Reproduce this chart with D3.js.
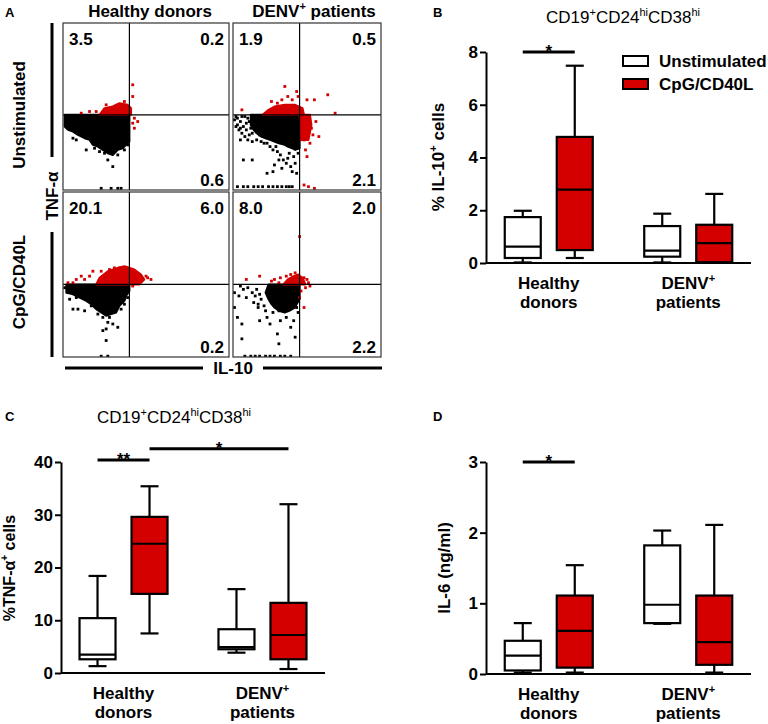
<!DOCTYPE html>
<html>
<head>
<meta charset="utf-8">
<script src="https://cdn.jsdelivr.net/npm/d3@7"></script>
<style>
  body { margin: 0; background: #fff; }
  svg { display: block; }
</style>
</head>
<body>
<svg width="768" height="724"></svg>
<script>
// ---------------- data ----------------
var groups = ["Healthy donors", "DENV+ patients"];
var conditions = ["Unstimulated", "CpG/CD40L"];

// box stats per group / condition: [min, q1, median, q3, max]
var il10Stats = [
  [[0.02, 0.19, 0.62, 1.74, 1.98], [0.19, 0.49, 2.78, 4.78, 7.48]],
  [[0.02, 0.24, 0.47, 1.40, 1.87], [0.02, 0.03, 0.75, 1.45, 2.62]]
];
var tnfStats = [
  [[1.3, 2.6, 3.5, 10.4, 18.4], [7.5, 15.0, 24.5, 29.6, 35.4]],
  [[3.85, 4.5, 4.9, 8.3, 15.9], [0.75, 2.6, 7.2, 13.3, 32.0]]
];
var il6Stats = [
  [[0.02, 0.05, 0.26, 0.47, 0.72], [0.02, 0.09, 0.61, 1.11, 1.54]],
  [[0.71, 0.72, 0.98, 1.82, 2.03], [0.02, 0.13, 0.45, 1.11, 2.11]]
];
var il10Ticks = [0, 2, 4, 6, 8];
var tnfTicks = [0, 10, 20, 30, 40];
var il6Ticks = [0, 1, 2, 3];

// significance bars: [group, condition] -> [group, condition] at value
var il10Sig = [{from: [0, 0], to: [0, 1], value: 8, label: "*"}];
var tnfSig = [
  {from: [0, 0], to: [0, 1], value: 40.4, label: "**"},
  {from: [0, 1], to: [1, 1], value: 42.5, label: "*"}
];
var il6Sig = [{from: [0, 0], to: [0, 1], value: 3, label: "*"}];

// flow plots (order: healthy/unstim, DENV/unstim, healthy/CpG, DENV/CpG), axes 0-100
var quadLabels = [["3.5", "0.2", "0.6"], ["1.9", "0.5", "2.1"], ["20.1", "6.0", "0.2"], ["8.0", "2.0", "2.2"]];
var gateX = [40, 45, 40, 45];
var gateY = [45, 45, 44, 44];
var blackCore = [
  [[[1,45],[40,45],[40,29],[38,27],[36,25],[33,24],[30,21],[27,22],[24,24],[21,26],[18,27],[16,30],[13,31],[9,33],[6,35],[3,36],[1,38]]],
  [[[12,45],[45,45],[45,25],[42,24],[40,25],[37,26],[35,27],[31,28],[28,29],[25,30],[22,31],[19,32],[16,34],[14,36],[12,39]]],
  [[[2,44],[40,44],[40,40],[38,37],[37,34],[34,31],[32,27],[29,26],[26,25],[23,27],[20,29],[17,32],[14,34],[10,36],[6,38],[2,39]]],
  [[[24,44],[45,44],[45,35],[43,32],[42,30],[38,28],[35,27],[31,28],[28,30],[26,32],[24,35],[22,39]]]
];
var redCore = [
  [[[22,45],[25,49],[30,50],[34,52],[39,51],[41,49],[41,45]]],
  [[[20,45],[24,48],[28,50],[35,51],[42,51],[47,49],[48,45]], [[45,45],[52,45],[53,39],[51,30],[46,30]]],
  [[[20,44],[22,48],[27,52],[33,54],[37,55],[43,53],[47,50],[49,47],[46,44]]],
  [[[34,44],[37,47],[41,49],[44,50],[47,48],[49,44]]]
];
var blackDots = [
  [[6,31],[8,30],[14,24],[19,25],[22,23],[27,23],[27,18],[30,14],[31,27],[35,26],[39,27],[23,1],[29,1],[33,1],[35,1],
   [2,42],[4,38],[3,44],[5,40],[7,42],[10,40],[12,37],[14,41],[17,38],[12,34],[20,33],[25,22],[33,21],[37,24]],
  [[1,42],[3,39],[5,41],[7,38],[9,40],[12,37],[14,39],[16,35],[13,34],[18,33],[21,36],[8,32],[5,30],[16,30],[21,28],
   [25,26],[27,24],[30,23],[32,21],[34,18],[36,16],[39,14],[40,11],[43,10],[31,18],[28,15],[33,13],[7,18],[13,18],
   [23,10],[27,11],[44,26],[44,22],[3,2],[7,2],[10,2],[14,2],[17,2],[20,2],[24,2],[27,2],[30,2],[33,2],[36,2],[38,2],
   [40,2],[2,44],[4,36],[10,43],[15,42],[11,33],[17,44],[6,44],[3,43],[8,44],[5,37],[9,36],[11,41],[2,38],[6,34],
   [10,30],[13,29],[19,29],[23,28],[29,26],[38,22],[41,20],[37,19],[42,16]],
  [[3,39],[4,35],[6,29],[13,28],[21,26],[24,24],[27,21],[30,20],[24,16],[26,17],[33,18],[26,10],[9,29],[37,32],[39,36],
   [23,0.5],[27,0.5],[1,42],[5,41],[8,36],[11,39],[28,24],[35,29],[17,31]],
  [[1,39],[5,43],[7,41],[10,42],[13,39],[15,37],[9,36],[16,41],[18,38],[19,35],[14,33],[17,32],[21,31],[6,20],[18,22],
   [23,24],[25,20],[27,27],[31,28],[32,22],[36,24],[39,18],[41,22],[42,12],[30,14],[31,8],[6,11],[17,30],[22,28],
   [43,30],[44,27],[8,0.5],[12,0.5],[15,0.5],[18,0.5],[22,0.5],[25,0.5],[28,0.5],[32,0.5],[35,0.5],[39,0.5],[4,37],
   [1,30],[3,24]]
];
var redDots = [
  [[11,46],[20,47],[42,63],[42,56],[43,43],[45,41],[42,40],[43,37],[16,47],[26,51],[37,53]],
  [[6,48],[26,53],[27,48],[33,54],[35,62],[37,56],[40,54],[43,59],[44,56],[50,54],[55,54],[64,57],[69,46],[48,44],
   [50,42],[52,40],[49,38],[53,37],[51,35],[54,33],[58,32],[48,30],[52,28],[49,24],[50,20],[48,3],[51,2],[55,1],
   [56,41],[30,52]],
  [[8,47],[11,49],[13,47],[16,49],[18,52],[23,52],[50,49],[53,47],[46,45],[42,43],[51,48],[31,54],[34,54],[3,45],
   [6,45],[28,53]],
  [[9,47],[18,49],[26,46],[28,47],[32,48],[31,45],[36,49],[45,73],[48,48],[50,47],[52,43],[49,42],[46,40],[45,36],
   [48,30],[51,45],[39,50],[42,51]]
];

// ---------------- drawing ----------------
var FONT = "'Liberation Sans', Arial, Helvetica, sans-serif";
var RED = "#d40000";
var svg = d3.select("svg").attr("font-family", FONT);

// text with superscript parts: [[text, isSup], ...]
function rich(sel, parts, size) {
  var up = false;
  parts.forEach(function(p) {
    var t = sel.append("tspan").text(p[0]);
    if (p[1]) {
      t.attr("font-size", Math.round(size * 0.65)).attr("dy", up ? 0 : -size * 0.42);
      up = true;
    } else {
      t.attr("dy", up ? size * 0.42 : 0);
      up = false;
    }
  });
  return sel;
}

function label(x, y, txt, opts) {
  opts = opts || {};
  var t = svg.append("text")
    .attr("x", x).attr("y", y)
    .attr("font-size", opts.size || 17)
    .attr("font-weight", opts.weight || "bold")
    .attr("text-anchor", opts.anchor || "start");
  if (opts.rotate) t.attr("transform", "rotate(-90," + x + "," + y + ")");
  if (opts.dy) t.attr("dy", opts.dy);
  if (typeof txt === "string") t.text(txt);
  else rich(t, txt, opts.size || 17);
  return t;
}

// ---- panel A ----
var frames = [
  {x: 63, y: 23, w: 166, h: 167},
  {x: 233, y: 23, w: 148, h: 167},
  {x: 63, y: 192, w: 166, h: 165},
  {x: 233, y: 192, w: 148, h: 165}
];

frames.forEach(function(f, i) {
  var xs = d3.scaleLinear().domain([0, 100]).range([f.x, f.x + f.w]);
  var ys = d3.scaleLinear().domain([0, 100]).range([f.y + f.h, f.y]);
  svg.append("clipPath").attr("id", "clip" + i)
    .append("rect").attr("x", f.x).attr("y", f.y).attr("width", f.w).attr("height", f.h);
  var g = svg.append("g").attr("clip-path", "url(#clip" + i + ")");
  var line = d3.line().x(function(d) { return xs(d[0]); }).y(function(d) { return ys(d[1]); })
    .curve(d3.curveLinearClosed);

  g.selectAll(".bcore").data(blackCore[i]).enter().append("path")
    .attr("d", line).attr("fill", "#000").attr("stroke", "#000").attr("stroke-width", 2)
    .attr("stroke-linejoin", "round");
  g.selectAll(".bdot").data(blackDots[i]).enter().append("rect")
    .attr("x", function(d) { return xs(d[0]) - 1.4; })
    .attr("y", function(d) { return ys(d[1]) - 1.4; })
    .attr("width", 2.8).attr("height", 2.8).attr("fill", "#000");
  g.selectAll(".rcore").data(redCore[i]).enter().append("path")
    .attr("d", line).attr("fill", RED).attr("stroke", RED).attr("stroke-width", 2)
    .attr("stroke-linejoin", "round");
  g.selectAll(".rdot").data(redDots[i]).enter().append("rect")
    .attr("x", function(d) { return xs(d[0]) - 1.4; })
    .attr("y", function(d) { return ys(d[1]) - 1.4; })
    .attr("width", 2.8).attr("height", 2.8).attr("fill", RED);

  // quadrant gates
  svg.append("line").attr("x1", xs(gateX[i])).attr("x2", xs(gateX[i]))
    .attr("y1", f.y).attr("y2", f.y + f.h).attr("stroke", "#000").attr("stroke-width", 1.2);
  svg.append("line").attr("x1", f.x).attr("x2", f.x + f.w)
    .attr("y1", ys(gateY[i])).attr("y2", ys(gateY[i])).attr("stroke", "#000").attr("stroke-width", 1.2);
  svg.append("rect").attr("x", f.x).attr("y", f.y).attr("width", f.w).attr("height", f.h)
    .attr("fill", "none").attr("stroke", "#333").attr("stroke-width", 1.2);

  label(f.x + 6, f.y + 22, quadLabels[i][0]);
  label(f.x + f.w - 5, f.y + 22, quadLabels[i][1], {anchor: "end"});
  label(f.x + f.w - 5, f.y + f.h - 4, quadLabels[i][2], {anchor: "end"});
});

label(5, 17, "A", {size: 13});
label(150, 17, groups[0], {anchor: "middle"});
label(314, 17, [["DENV"], ["+", 1], [" patients"]], {anchor: "middle"});
label(19, 115, conditions[0], {anchor: "middle", rotate: true, dy: "0.35em"});
label(19, 282, conditions[1], {anchor: "middle", rotate: true, dy: "0.35em"});
label(52, 196, "TNF-α", {anchor: "middle", rotate: true, dy: "0.35em"});
label(233, 368, "IL-10", {anchor: "middle", dy: "0.35em"});
[[52, 23, 52, 157], [52, 232, 52, 357], [65, 368, 203, 368], [263, 368, 382, 368]].forEach(function(l) {
  svg.append("line").attr("x1", l[0]).attr("y1", l[1]).attr("x2", l[2]).attr("y2", l[3])
    .attr("stroke", "#000").attr("stroke-width", 3);
});

// ---- box plot panels ----
function boxPanel(o) {
  var g = svg.append("g");
  var y = d3.scaleLinear().domain([0, o.max]).range([o.bottom, o.top]);
  var x = d3.scalePoint().domain(groups).range([o.left, o.right]).padding(0.45);
  var xi = d3.scalePoint().domain(conditions).range([-26, 26]);
  var bw = 36;
  var cx = function(gi, ci) { return x(groups[gi]) + xi(conditions[ci]); };

  var ax = g.append("g").attr("transform", "translate(" + o.left + ",0)")
    .call(d3.axisLeft(y).tickValues(o.ticks).tickFormat(d3.format("d"))
      .tickSize(6).tickSizeOuter(0).tickPadding(2))
    .attr("font-family", FONT).attr("font-size", 17).attr("font-weight", "bold");
  ax.select(".domain").attr("stroke-width", 2);
  ax.selectAll(".tick line").attr("stroke-width", 2);
  ax.selectAll(".tick text").attr("fill", "#000");

  g.append("line").attr("x1", o.left).attr("x2", o.right)
    .attr("y1", y(0)).attr("y2", y(0)).attr("stroke", "#000").attr("stroke-width", 2);

  o.stats.forEach(function(grp, gi) {
    grp.forEach(function(s, ci) {
      var c = cx(gi, ci);
      var b = g.append("g").attr("stroke", "#000").attr("stroke-width", 2.2);
      b.append("line").attr("x1", c).attr("x2", c).attr("y1", y(s[0])).attr("y2", y(s[4]));
      [s[0], s[4]].forEach(function(v) {
        b.append("line").attr("x1", c - bw / 4).attr("x2", c + bw / 4).attr("y1", y(v)).attr("y2", y(v));
      });
      b.append("rect").attr("x", c - bw / 2).attr("width", bw)
        .attr("y", y(s[3])).attr("height", y(s[1]) - y(s[3]))
        .attr("fill", ci === 0 ? "#fff" : RED);
      b.append("line").attr("x1", c - bw / 2).attr("x2", c + bw / 2).attr("y1", y(s[2])).attr("y2", y(s[2]));
    });
  });

  o.sig.forEach(function(s) {
    var x1 = cx(s.from[0], s.from[1]), x2 = cx(s.to[0], s.to[1]);
    g.append("line").attr("x1", x1).attr("x2", x2).attr("y1", y(s.value)).attr("y2", y(s.value))
      .attr("stroke", "#000").attr("stroke-width", 3);
    label((x1 + x2) / 2, y(s.value) + 5, s.label, {anchor: "middle"});
  });

  label(x(groups[0]), y(0) + 26, "Healthy", {anchor: "middle"});
  label(x(groups[0]), y(0) + 45, "donors", {anchor: "middle"});
  label(x(groups[1]), y(0) + 26, [["DENV"], ["+", 1]], {anchor: "middle"});
  label(x(groups[1]), y(0) + 45, "patients", {anchor: "middle"});
  label(o.titleX, o.titleY, o.yTitle, {anchor: "middle", rotate: true, dy: "0.35em", size: o.titleSize});
}

var subsetTitle = [["CD19"], ["+", 1], ["CD24"], ["hi", 1], ["CD38"], ["hi", 1]];

// B
label(433, 17, "B", {size: 13});
label(623, 23, subsetTitle, {anchor: "middle", weight: "normal", size: 17});
boxPanel({left: 486, right: 751, top: 52, bottom: 263, max: 8, ticks: il10Ticks, stats: il10Stats,
  sig: il10Sig, yTitle: [["% IL-10"], ["+", 1], [" cells"]], titleX: 444, titleY: 157});
conditions.forEach(function(c, i) {
  svg.append("rect").attr("x", 623).attr("y", 56 + i * 23).attr("width", 25).attr("height", 10)
    .attr("fill", i === 0 ? "#fff" : RED).attr("stroke", "#000").attr("stroke-width", 2);
  label(659, 61 + i * 23, c, {dy: "0.36em"});
});

// C
label(5, 421, "C", {size: 13});
label(174, 423, subsetTitle, {anchor: "middle", weight: "normal", size: 17});
boxPanel({left: 61, right: 325, top: 462, bottom: 673, max: 40, ticks: tnfTicks, stats: tnfStats,
  sig: tnfSig, yTitle: [["%TNF-α"], ["+", 1], [" cells"]], titleX: 15, titleY: 568, titleSize: 16});

// D
label(433, 421, "D", {size: 13});
boxPanel({left: 486, right: 751, top: 462, bottom: 674, max: 3, ticks: il6Ticks, stats: il6Stats,
  sig: il6Sig, yTitle: "IL-6 (ng/ml)", titleX: 444, titleY: 568});
</script>
</body>
</html>
